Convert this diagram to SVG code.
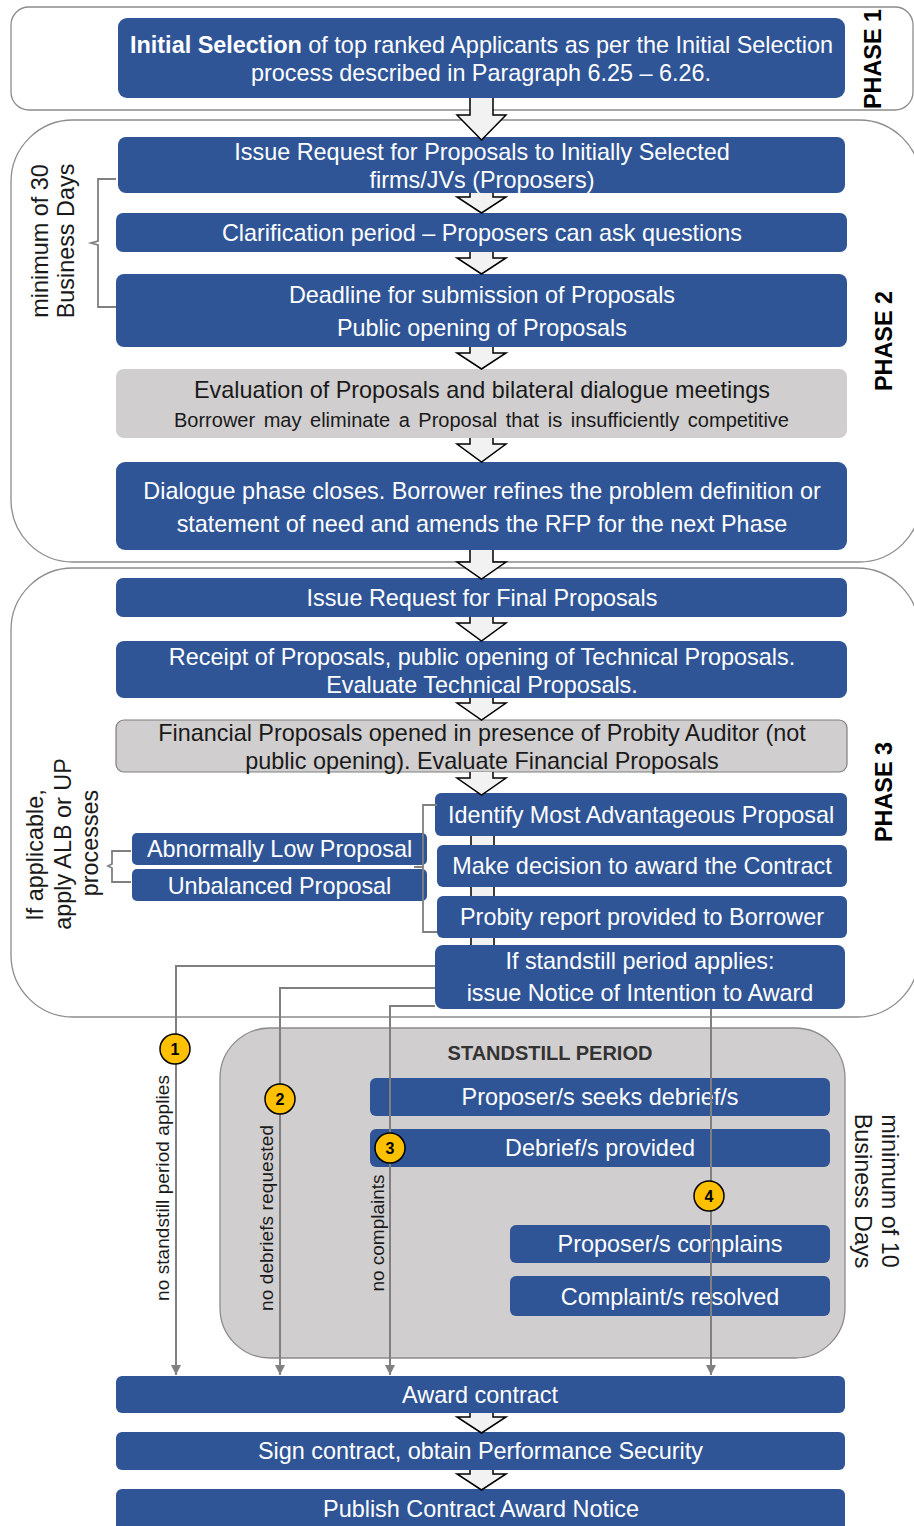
<svg xmlns="http://www.w3.org/2000/svg" width="914" height="1526" viewBox="0 0 914 1526">
<defs>
<style>
.box{fill:#2f5597;}
.gbox{fill:#d0cece;}
.phase{fill:#ffffff;stroke:#8c8c8c;stroke-width:1.3;}
.t{font-family:'Liberation Sans',Arial,sans-serif;font-size:23.4px;fill:#ffffff;text-anchor:middle;dominant-baseline:central;}
.dk{fill:#1a1a1a;}
.ph{font-family:'Liberation Sans',Arial,sans-serif;font-size:23.4px;font-weight:bold;fill:#000;text-anchor:middle;dominant-baseline:central;}
.side{font-family:'Liberation Sans',Arial,sans-serif;font-size:23.4px;fill:#1a1a1a;text-anchor:middle;dominant-baseline:central;}
.lbl{font-family:'Liberation Sans',Arial,sans-serif;font-size:19px;fill:#1a1a1a;text-anchor:middle;dominant-baseline:central;}
.barrow{fill:#f2f2f2;stroke:#000;stroke-width:1.5;stroke-linejoin:miter;}
.conn{fill:none;stroke:#808080;stroke-width:2;}
.brace{fill:none;stroke:#808080;stroke-width:1.8;}
.badge{fill:#ffc000;stroke:#000;stroke-width:1.5;}
.bn{font-family:'Liberation Sans',Arial,sans-serif;font-size:16px;font-weight:bold;fill:#000;text-anchor:middle;dominant-baseline:central;}
</style>
<marker id="ah" viewBox="0 0 10 10" refX="10" refY="5" markerWidth="5" markerHeight="5" orient="auto" markerUnits="strokeWidth">
<path d="M0,0 L10,5 L0,10 z" fill="#808080"/>
</marker>
</defs>

<!-- phase containers -->
<g id="phase1">
<rect class="phase" x="11" y="7" width="902" height="103" rx="18"/>
<text class="ph" transform="translate(873,59) rotate(-90)">PHASE 1</text>
</g>
<g id="phase2">
<rect class="phase" x="11" y="120" width="910" height="442" rx="62"/>
<text class="ph" transform="translate(884,341) rotate(-90)">PHASE 2</text>
<text class="side" transform="translate(40,241) rotate(-90)">minimum of 30</text>
<text class="side" transform="translate(66,241) rotate(-90)">Business Days</text>
<path class="brace" d="M116,179 H98 V241 L91,243 L98,245 V307 H116"/>
</g>
<g id="phase3">
<rect class="phase" x="11" y="568" width="908" height="449" rx="62"/>
<text class="ph" transform="translate(884,792) rotate(-90)">PHASE 3</text>
<text class="side" transform="translate(35,855) rotate(-90)">If applicable,</text>
<text class="side" transform="translate(63,844) rotate(-90)">apply ALB or UP</text>
<text class="side" transform="translate(90,843) rotate(-90)">processes</text>
</g>
<g id="standstill">
<rect x="220" y="1028" width="625" height="330" rx="50" fill="#d0cece" stroke="#8c8c8c" stroke-width="1.3"/>
<text x="550" y="1053" font-family="'Liberation Sans',Arial,sans-serif" font-size="20" font-weight="bold" fill="#333" text-anchor="middle" dominant-baseline="central">STANDSTILL PERIOD</text>
<text class="side" transform="translate(890,1191) rotate(90)">minimum of 10</text>
<text class="side" transform="translate(863,1191) rotate(90)">Business Days</text>
</g>

<!-- shaft behind phase 3 award boxes -->
<g id="band">
<rect x="471" y="836" width="23" height="110" fill="#f2f2f2"/>
<line x1="471" y1="836" x2="471" y2="946" stroke="#000" stroke-width="1.5"/>
<line x1="494" y1="836" x2="494" y2="946" stroke="#000" stroke-width="1.5"/>
</g>

<!-- nodes -->
<g id="n-initial">
<rect class="box" x="118" y="18" width="727" height="80" rx="9"/>
<text class="t" x="481.5" y="45" textLength="703" lengthAdjust="spacingAndGlyphs"><tspan font-weight="bold">Initial Selection</tspan> of top ranked Applicants as per the Initial Selection</text>
<text class="t" x="481" y="73" textLength="460" lengthAdjust="spacingAndGlyphs">process described in Paragraph 6.25 – 6.26.</text>
</g>
<g id="n-issue-rfp">
<rect class="box" x="118" y="137" width="727" height="56" rx="8"/>
<text class="t" x="482" y="152">Issue Request for Proposals to Initially Selected</text>
<text class="t" x="482" y="180">firms/JVs (Proposers)</text>
</g>
<g id="n-clarification">
<rect class="box" x="116" y="213" width="731" height="39" rx="7"/>
<text class="t" x="482" y="233">Clarification period – Proposers can ask questions</text>
</g>
<g id="n-deadline">
<rect class="box" x="116" y="274" width="731" height="73" rx="8"/>
<text class="t" x="482" y="295">Deadline for submission of Proposals</text>
<text class="t" x="482" y="328">Public opening of Proposals</text>
</g>
<g id="n-evaluation">
<rect class="gbox" x="116" y="369" width="731" height="69" rx="8"/>
<text class="t dk" x="482" y="390">Evaluation of Proposals and bilateral dialogue meetings</text>
<text class="t dk" x="481.5" y="420" style="font-size:20px;word-spacing:3px">Borrower may eliminate a Proposal that is insufficiently competitive</text>
</g>
<g id="n-dialogue">
<rect class="box" x="116" y="462" width="731" height="88" rx="9"/>
<text class="t" x="482" y="491">Dialogue phase closes. Borrower refines the problem definition or</text>
<text class="t" x="482" y="524">statement of need and amends the RFP for the next Phase</text>
</g>
<g id="n-issue-final">
<rect class="box" x="116" y="578" width="731" height="39" rx="7"/>
<text class="t" x="482" y="598">Issue Request for Final Proposals</text>
</g>
<g id="n-receipt">
<rect class="box" x="116" y="641" width="731" height="57" rx="8"/>
<text class="t" x="482" y="657">Receipt of Proposals, public opening of Technical Proposals.</text>
<text class="t" x="482" y="685">Evaluate Technical Proposals.</text>
</g>
<g id="n-financial">
<rect x="116" y="720" width="731" height="52" rx="8" fill="#d0cece" stroke="#7f7f7f" stroke-width="1.2"/>
<text class="t dk" x="482" y="733">Financial Proposals opened in presence of Probity Auditor (not</text>
<text class="t dk" x="482" y="761">public opening). Evaluate Financial Proposals</text>
</g>
<g id="n-identify">
<rect class="box" x="435" y="793" width="412" height="43" rx="6"/>
<text class="t" x="641" y="815">Identify Most Advantageous Proposal</text>
</g>
<g id="n-decision">
<rect class="box" x="437" y="845" width="410" height="42" rx="6"/>
<text class="t" x="642" y="866">Make decision to award the Contract</text>
</g>
<g id="n-probity">
<rect class="box" x="437" y="896" width="410" height="42" rx="6"/>
<text class="t" x="642" y="917">Probity report provided to Borrower</text>
</g>
<g id="n-notice">
<rect class="box" x="435" y="945" width="410" height="64" rx="8"/>
<text class="t" x="640" y="961">If standstill period applies:</text>
<text class="t" x="640" y="993">issue Notice of Intention to Award</text>
</g>
<g id="n-alp">
<rect class="box" x="132" y="833" width="295" height="32" rx="5"/>
<text class="t" x="279.5" y="849">Abnormally Low Proposal</text>
</g>
<g id="n-up">
<rect class="box" x="132" y="869" width="295" height="32" rx="5"/>
<text class="t" x="279.5" y="886">Unbalanced Proposal</text>
</g>
<g id="n-seeks">
<rect class="box" x="370" y="1078" width="460" height="38" rx="6"/>
<text class="t" x="600" y="1097">Proposer/s seeks debrief/s</text>
</g>
<g id="n-provided">
<rect class="box" x="370" y="1129" width="460" height="38" rx="6"/>
<text class="t" x="600" y="1148">Debrief/s provided</text>
</g>
<g id="n-complains">
<rect class="box" x="510" y="1225" width="320" height="38" rx="6"/>
<text class="t" x="670" y="1244">Proposer/s complains</text>
</g>
<g id="n-resolved">
<rect class="box" x="510" y="1276" width="320" height="40" rx="6"/>
<text class="t" x="670" y="1297">Complaint/s resolved</text>
</g>
<g id="n-award">
<rect class="box" x="116" y="1376" width="729" height="37" rx="6"/>
<text class="t" x="480" y="1395" textLength="156" lengthAdjust="spacingAndGlyphs">Award contract</text>
</g>
<g id="n-sign">
<rect class="box" x="116" y="1432" width="729" height="38" rx="6"/>
<text class="t" x="480.5" y="1451" textLength="445" lengthAdjust="spacingAndGlyphs">Sign contract, obtain Performance Security</text>
</g>
<g id="n-publish">
<rect class="box" x="116" y="1489" width="729" height="45" rx="6"/>
<text class="t" x="481" y="1509" textLength="316" lengthAdjust="spacingAndGlyphs">Publish Contract Award Notice</text>
</g>

<!-- connectors -->
<g id="connectors">
<path class="barrow" d="M470,98 V115 H457 L481.5,140 L506,115 H493 V98"/>
<path class="barrow" d="M470,193 V197 H457 L481.5,213 L506,197 H493 V193"/>
<path class="barrow" d="M470,252 V258 H457 L481.5,274 L506,258 H493 V252"/>
<path class="barrow" d="M470,347 V353 H457 L481.5,369 L506,353 H493 V347"/>
<path class="barrow" d="M470,438 V444 H457 L481.5,462 L506,444 H493 V438"/>
<path class="barrow" d="M470,550 V562 H457 L481.5,579 L506,562 H493 V550"/>
<path class="barrow" d="M470,617 V623 H457 L481.5,641 L506,623 H493 V617"/>
<path class="barrow" d="M470,698 V703 H457 L481.5,720 L506,703 H493 V698"/>
<path class="barrow" d="M470,772 V778 H457 L481.5,795 L506,778 H493 V772"/>
<path class="barrow" d="M470,1413 V1417 H457 L481.5,1433 L506,1417 H493 V1413"/>
<path class="barrow" d="M470,1470 V1474 H457 L481.5,1490 L506,1474 H493 V1470"/>

<path class="brace" d="M131,851 H112 V864 L108,866 L112,868 V882 H131"/>
<path class="brace" d="M437,805 H423 V932 H437 M423,867 H414"/>

<path class="conn" d="M435,966 H176 V1375" marker-end="url(#ah)"/>
<path class="conn" d="M435,988 H280 V1375" marker-end="url(#ah)"/>
<path class="conn" d="M435,1006 H390 V1375" marker-end="url(#ah)"/>
<path class="conn" d="M711,1009 V1375" marker-end="url(#ah)"/>

<text class="lbl" transform="translate(162,1188) rotate(-90)" textLength="226" lengthAdjust="spacing">no standstill period applies</text>
<text class="lbl" transform="translate(266,1218) rotate(-90)" textLength="186" lengthAdjust="spacing">no debriefs requested</text>
<text class="lbl" transform="translate(377,1233) rotate(-90)">no complaints</text>

<circle class="badge" cx="175" cy="1049" r="15"/><text class="bn" x="175" y="1049">1</text>
<circle class="badge" cx="280" cy="1099" r="15"/><text class="bn" x="280" y="1099">2</text>
<circle class="badge" cx="390" cy="1148" r="15"/><text class="bn" x="390" y="1148">3</text>
<circle class="badge" cx="709" cy="1196" r="15"/><text class="bn" x="709" y="1196">4</text>
</g>
</svg>
